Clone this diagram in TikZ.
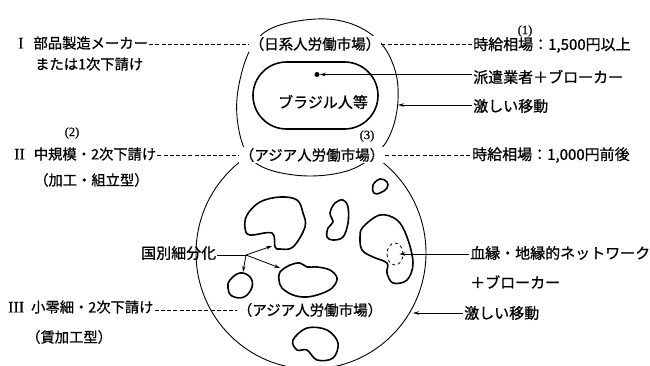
\documentclass[tikz,border=0pt]{standalone}
\usepackage{fontspec}
\setmainfont{Noto Sans CJK JP}[FakeBold=0.8]
\newfontfamily\romnum{Liberation Serif}[FakeBold=0.6]
\usetikzlibrary{arrows.meta,shapes.geometric}
\begin{document}
\begin{tikzpicture}[x=1pt,y=-1pt,
  every node/.style={inner sep=1pt, font=\fontsize{15}{17}\selectfont},
  lefttxt/.style={anchor=west, font=\fontsize{14.3}{17}\selectfont},
  lbl/.style={fill=white, inner sep=1pt},
  small/.style={font=\romnum\fontsize{12.5}{14}\selectfont},
  rn/.style={},
  ring/.style={line width=0.9pt},
  blob/.style={line width=1.6pt, line join=round},
  dline/.style={line width=0.6pt, dash pattern=on 4pt off 2.2pt},
  arr/.style={line width=0.8pt, -{Stealth[length=6pt,width=3.5pt]}},
]
\useasboundingbox (0,0) rectangle (650,365);

% lower ring
\draw[ring] (311,253) ellipse [x radius=115, y radius=116];
\fill[white] (250,132) rectangle (376,160);
% upper ring
\draw[ring] plot[smooth cycle, tension=0.6] coordinates {(316,19) (352,24) (380,42) (395,70) (398,100) (392,130) (378,152) (350,170) (310,176) (270,170) (248,155) (238,125) (238,90) (250,50) (272,28)};

% inner stadium
\draw[blob, rounded corners=33.5pt] (253,62) rectangle (378,129);
\node[circle, fill, inner sep=0pt, minimum size=5pt] (dot) at (317,74.5) {};
\node (br) at (323,102) {ブラジル人等};

% blobs
\draw[blob] plot[smooth cycle, tension=0.6] coordinates {(247,215) (260,202) (280,197) (297,200) (303,213) (305,227) (293,247) (280,249) (275,247) (272,233) (250,235) (245,228)};
\draw[blob] plot[smooth cycle, tension=0.7] coordinates {(230,280) (240,273) (250,277) (252,287) (244,297) (232,296) (228,288)};
\draw[blob] plot[smooth cycle, tension=0.6] coordinates {(280,272) (290,265) (300,263) (307,267) (317,267) (330,270) (337,278) (333,287) (323,293) (307,297) (293,295) (282,288) (279,280)};
\draw[blob] plot[smooth cycle, tension=0.6] coordinates {(335,203) (343,200) (348,207) (348,223) (343,237) (333,240) (327,237) (328,228) (333,222) (330,213)};
\draw[blob] plot[smooth cycle, tension=0.7] coordinates {(373,185) (380,179) (387,182) (387,188) (380,193) (374,193)};
\draw[blob] plot[smooth cycle, tension=0.6] coordinates {(363,227) (380,215) (397,220) (407,237) (413,263) (407,280) (393,283) (387,273) (387,263) (373,257) (362,250) (360,237)};
\draw[blob] plot[smooth cycle, tension=0.6] coordinates {(293,340) (307,328) (327,330) (338,343) (333,358) (317,360) (307,350) (297,350)};
\node[draw, dashed, ellipse, line width=0.8pt, minimum width=16pt, minimum height=22pt] (dc) at (395,254) {};

% labels on rings
\node[lbl, font=\fontsize{14.5}{17}\selectfont] (U) at (315,44) {（日系人労働市場）};
\node[lbl, font=\fontsize{14.5}{17}\selectfont] (M) at (312,155) {（アジア人労働市場）};
\node[lbl, font=\fontsize{14.5}{17}\selectfont] (B) at (310,310) {（アジア人労働市場）};
\node[small] (n3) at (367,136) {(3)};

% left texts
\node[lefttxt] (L1) at (17,43) {{\romnum\fontsize{16}{17}\selectfont I}\hspace{10pt}部品製造メーカー};
\node[lefttxt] (L1b) at (34,64) {または1次下請け};
\node[lefttxt] (L2) at (13,154) {{\romnum\fontsize{16}{17}\selectfont II}\hspace{9pt}中規模・2次下請け};
\node[small] (n2) at (72,133) {(2)};
\node[lefttxt] (L2b) at (33,180) {（加工・組立型）};
\node[lefttxt] (L3) at (7,307) {{\romnum\fontsize{16}{17}\selectfont III}\hspace{7pt}小零細・2次下請け};
\node[lefttxt] (L3b) at (25,337) {（賃加工型）};

% right texts
\node[anchor=west] (R1) at (472,45) {時給相場：1,500円以上};
\node[small] (n1) at (525,31) {(1)};
\node[anchor=west] (R2) at (472,77) {派遣業者＋ブローカー};
\node[anchor=west] (R3) at (472,106) {激しい移動};
\node[anchor=west] (R4) at (471,155) {時給相場：1,000円前後};
\node[anchor=west] (R5) at (469,253) {血縁・地縁的ネットワーク};
\node[anchor=west] (R6) at (469,282) {＋ブローカー};
\node[anchor=west] (R7) at (463,313) {激しい移動};
\node[anchor=west] (K) at (140,253) {国別細分化};

% dashed leaders
\draw[dline] (L1.east |- U.west) -- (U.west);
\draw[dline] (U.east) -- (R1.west |- U.east);
\draw[dline] (L2.east |- M.west) -- (M.west);
\draw[dline] (M.east) -- (R4.west |- M.east);
\draw[dline] (L3.east |- B.west) -- (B.west);

% arrows
\coordinate (c1r) at (398,105);
\coordinate (c2r) at (413,313);
\draw[arr] (dot -| R2.west) -- (dot);
\draw[arr] (R3.west |- c1r) -- (c1r);
\draw[arr, shorten >=-4pt] (dc -| R5.west) -- (dc.east);
\draw[arr] (R7.west |- c2r) -- (c2r);

% 国別細分化 branches
\coordinate (bp) at (246,255);
\coordinate (t1) at (272,246);
\coordinate (t2) at (243,272);
\coordinate (t3) at (280,268);
\draw[line width=0.8pt] (K.east |- bp) -- (bp);
\draw[arr] (bp) -- (t1);
\draw[arr] (bp) -- (t2);
\draw[arr] (bp) -- (t3);
\end{tikzpicture}
\end{document}
